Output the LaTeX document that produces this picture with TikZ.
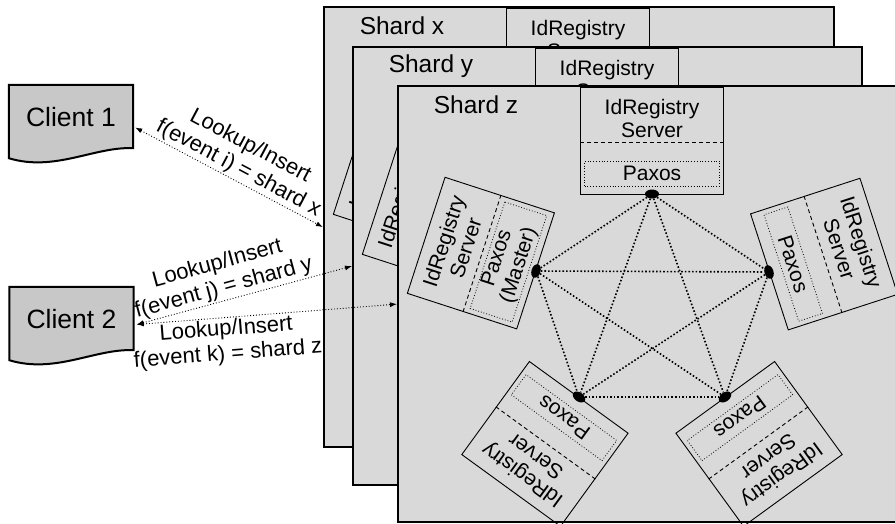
\documentclass[tikz,border=0pt]{standalone}
\usepackage{fontspec}
\setmainfont{Liberation Sans}
\usetikzlibrary{arrows.meta,calc,shapes.geometric,backgrounds}
\definecolor{panelgray}{RGB}{217,217,217}
\definecolor{clientgray}{RGB}{200,200,200}

\begin{document}
\begin{tikzpicture}[
    x=1pt, y=-1pt,
    panel/.style={
        rectangle, draw=black, line width=2.2pt, fill=panelgray,
        inner sep=0pt, anchor=north west
    },
    shardlabel/.style={font=\fontsize{24.5}{28}\selectfont, inner sep=0pt},
    srvbox/.style={
        rectangle, draw=black, line width=0.9pt,
        minimum width=122pt, minimum height=115pt, inner sep=0pt
    },
    topsize/.style={minimum width=143pt, minimum height=107pt},
    srvtext/.style={font=\fontsize{21}{23}\selectfont, align=center, inner sep=0pt},
    sepline/.style={line width=0.9pt, dash pattern=on 4pt off 3pt},
    paxbox/.style={
        rectangle, draw=black, dotted, line width=0.8pt,
        minimum width=112pt, minimum height=25pt, inner sep=0pt,
        align=center, font=\fontsize{21}{23}\selectfont
    },
    hub/.style={ellipse, fill=black, minimum width=14pt, minimum height=9pt, inner sep=0pt},
    meshline/.style={line width=1.6pt, dotted},
    client/.style={
        minimum width=124pt, minimum height=65pt, inner sep=0pt,
        font=\fontsize{26.5}{30}\selectfont
    },
    clientline/.style={draw=black, line width=2pt, fill=clientgray},
    reqline/.style={
        {Latex[length=7pt,width=5pt]}-{Latex[length=7pt,width=5pt]},
        line width=0.9pt, dotted
    },
    reqlabel/.style={font=\fontsize{22}{25}\selectfont, align=center, inner sep=1.5pt}
]
\useasboundingbox (0,0) rectangle (895,523);

% Three stacked shards, back to front
\foreach \sid/\dx/\dy/\w/\h in {x/-74/-79/510/440, y/-45/-39/509/438, z/0/0/510/436} {
  \begin{scope}[shift={(\dx,\dy)}, name prefix=\sid-]
    \node[panel, minimum width=\w pt, minimum height=\h pt] (panel) at (397,85) {};
    \node[shardlabel] (title) at (476,105) {Shard \sid};

    % top server (not rotated)
    \node[srvbox, topsize, anchor=south] (top) at (652,195) {};
    \node[srvtext] (top-name) at ($(top.south)!0.71!(top.north)$) {IdRegistry\\Server};
    \draw[sepline] ($(top.south west)!0.49!(top.north west)$) -- ($(top.south east)!0.49!(top.north east)$);
    \node[paxbox, minimum width=135pt] (top-paxos) at ($(top.south)!0.2!(top.north)$) {Paxos};
    \node[hub] (top-hub) at (652,194) {};

    % rotated servers round the ring
    \foreach \bn/\ang/\vx/\vy/\ptxt/\ph/\pf in {
        left/72/536/271/{Paxos\\(Master)}/44/0.25,
        right/-72/769/272/Paxos/25/0.22,
        bleft/144/579/397/Paxos/25/0.22,
        bright/-144/725/397/Paxos/25/0.22} {
      \node[srvbox, rotate=\ang, anchor=south] (\bn) at (\vx,\vy) {};
      \node[srvtext, rotate=\ang] (\bn-name) at ($(\bn.south)!0.74!(\bn.north)$) {IdRegistry\\Server};
      \draw[sepline] ($(\bn.south west)!0.49!(\bn.north west)$) -- ($(\bn.south east)!0.49!(\bn.north east)$);
      \node[paxbox, rotate=\ang, minimum height=\ph pt] (\bn-paxos) at ($(\bn.south)!\pf!(\bn.north)$) {\ptxt};
      \node[hub, rotate=\ang] (\bn-hub) at (\vx,\vy) {};
    }

    % Paxos mesh
    \foreach \a/\b in {top/left, top/right, top/bleft, top/bright, left/right,
                       left/bleft, left/bright, right/bleft, right/bright, bleft/bright}
      \draw[meshline] (\a-hub) -- (\b-hub);
  \end{scope}
}

% Clients
\node[client] (client1) at (71,117.5) {Client 1};
\node[client] (client2) at (71.5,319.5) {Client 2};
\begin{scope}[on background layer]
  \foreach \c in {client1, client2}
    \draw[clientline] (\c.north west) -- (\c.north east) -- ([yshift=2pt]\c.south east)
      .. controls +(-38,-2) and +(46,14) .. ([yshift=-8pt]\c.south west) -- cycle;
\end{scope}

% Requests
\draw[reqline] ([xshift=2pt,yshift=-10pt]client1.east) -- node[reqlabel, sloped, above, pos=0.52] (req-x) {Lookup/Insert\\f(event i) = shard x} (x-panel.west);
\draw[reqline] ([xshift=3pt,yshift=-5pt]client2.east) -- node[reqlabel, sloped, above, pos=0.42] (req-y) {Lookup/Insert\\f(event j) = shard y} (y-panel.west);
\draw[reqline] ([xshift=3pt,yshift=-5pt]client2.east) -- node[reqlabel, sloped, below, pos=0.34] (req-z) {Lookup/Insert\\f(event k) = shard z} (z-panel.west);

\end{tikzpicture}
\end{document}
